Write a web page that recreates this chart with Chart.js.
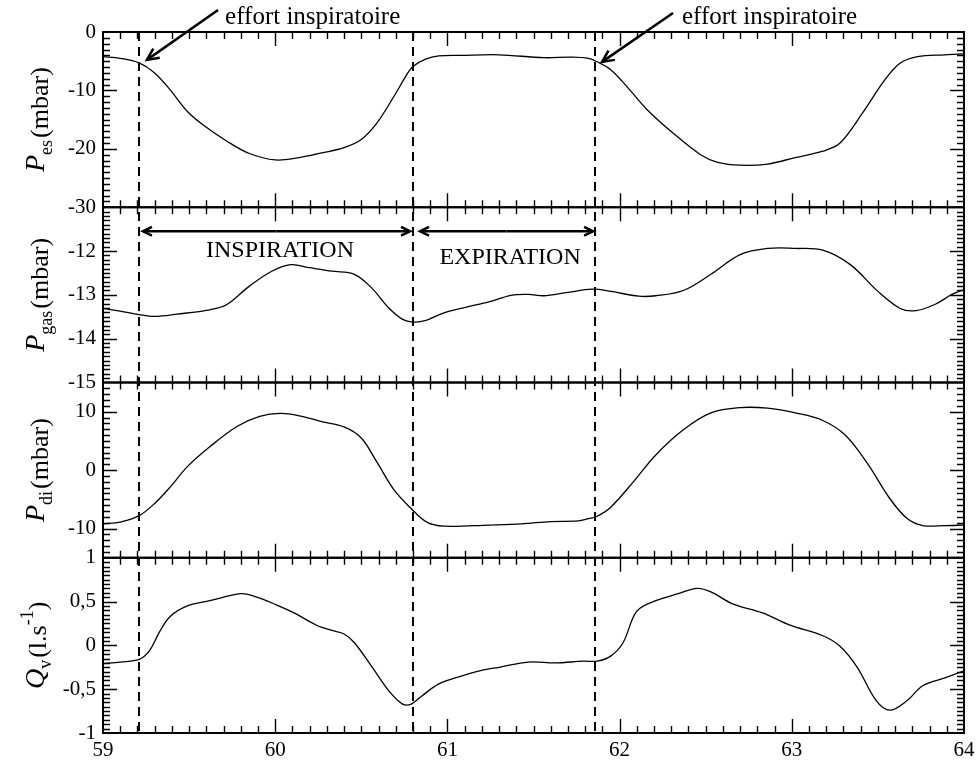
<!DOCTYPE html>
<html>
<head>
<meta charset="utf-8">
<script src="https://cdn.jsdelivr.net/npm/chart.js@4/dist/chart.umd.min.js"></script>
<style>
  html, body { margin: 0; padding: 0; background: #fff; }
  #wrap { width: 976px; height: 762px; }
</style>
</head>
<body>
<div id="wrap"><canvas id="chart" width="976" height="762"></canvas></div>
<script>
// time axis (s)
const xTickValues = [59, 60, 61, 62, 63, 64];

// P_es (mbar)
const tEs = [59.00, 59.10, 59.21, 59.30, 59.39, 59.49, 59.59, 59.72, 59.85, 60.00, 60.14, 60.27, 60.40, 60.50,
  60.59, 60.69, 60.77, 60.80, 60.87, 60.95, 61.08, 61.30, 61.56, 61.72, 61.82, 61.87, 61.95, 62.05, 62.16,
  62.31, 62.47, 62.57, 62.70, 62.86, 63.02, 63.18, 63.28, 63.41, 63.54, 63.63, 63.73, 63.89, 64.00];
const pEs = [-4.2, -4.5, -5.3, -7.0, -9.9, -13.6, -16.1, -18.7, -20.8, -21.9, -21.5, -20.7, -19.8, -18.4,
  -15.6, -11.0, -7.0, -5.9, -4.7, -4.1, -4.0, -3.9, -4.4, -4.3, -4.5, -5.1, -6.5, -9.6, -13.3,
  -17.3, -21.0, -22.3, -22.8, -22.6, -21.5, -20.4, -19.0, -13.9, -8.2, -5.3, -4.2, -3.9, -3.75];

// P_gas (mbar)
const tGas = [59.00, 59.10, 59.21, 59.30, 59.43, 59.62, 59.72, 59.85, 59.98, 60.09, 60.20, 60.33, 60.46, 60.56,
  60.66, 60.74, 60.80, 60.87, 60.98, 61.11, 61.24, 61.37, 61.47, 61.56, 61.69, 61.84, 61.95, 62.11, 62.21,
  62.37, 62.53, 62.70, 62.86, 63.02, 63.18, 63.34, 63.50, 63.63, 63.72, 63.83, 63.93, 64.00];
const pGas = [-13.31, -13.37, -13.45, -13.49, -13.44, -13.34, -13.22, -12.80, -12.46, -12.31, -12.38, -12.46, -12.53, -12.84,
  -13.30, -13.56, -13.62, -13.59, -13.41, -13.28, -13.16, -13.01, -12.99, -13.02, -12.95, -12.87, -12.92, -13.03, -13.02,
  -12.90, -12.53, -12.08, -11.94, -11.94, -11.98, -12.31, -12.92, -13.31, -13.36, -13.22, -12.99, -12.88];

// P_di (mbar)
const tDi = [59.00, 59.10, 59.21, 59.30, 59.39, 59.49, 59.62, 59.78, 59.91, 60.03, 60.14, 60.27, 60.40, 60.50,
  60.59, 60.69, 60.79, 60.88, 60.98, 61.24, 61.43, 61.60, 61.76, 61.82, 61.87, 61.95, 62.08, 62.21, 62.37,
  62.53, 62.70, 62.86, 63.02, 63.18, 63.31, 63.44, 63.57, 63.67, 63.76, 63.89, 64.00];
const pDi = [-9.2, -8.9, -7.8, -5.7, -2.9, 0.6, 4.0, 7.5, 9.2, 9.7, 9.3, 8.3, 7.4, 5.5,
  1.4, -3.4, -6.6, -8.9, -9.6, -9.4, -9.2, -8.8, -8.7, -8.3, -7.9, -6.3, -2.0, 2.6, 6.9,
  9.8, 10.7, 10.6, 9.8, 8.5, 6.0, 1.1, -4.9, -8.3, -9.5, -9.5, -9.4];

// Q_v (l/s)
const tQ = [59.00, 59.10, 59.21, 59.27, 59.33, 59.39, 59.49, 59.62, 59.80, 59.88, 60.01, 60.11, 60.24, 60.33,
  60.40, 60.46, 60.56, 60.66, 60.74, 60.79, 60.85, 60.95, 61.08, 61.21, 61.30, 61.47, 61.63, 61.79, 61.87,
  61.95, 62.02, 62.10, 62.21, 62.34, 62.45, 62.53, 62.66, 62.83, 62.99, 63.18, 63.28, 63.38, 63.49, 63.57,
  63.67, 63.76, 63.89, 64.00];
const qV = [-0.21, -0.19, -0.16, -0.06, 0.16, 0.33, 0.45, 0.51, 0.59, 0.56, 0.46, 0.37, 0.23, 0.17,
  0.13, 0.03, -0.24, -0.52, -0.67, -0.67, -0.58, -0.44, -0.35, -0.28, -0.25, -0.19, -0.20, -0.18, -0.18,
  -0.12, 0.03, 0.39, 0.51, 0.59, 0.65, 0.61, 0.47, 0.37, 0.23, 0.11, -0.01, -0.25, -0.63, -0.74,
  -0.63, -0.46, -0.37, -0.29];

// phase markers (dashed lines)
const markerTimes = [59.21, 60.80, 61.86];

// y tick labels per panel
const esTicks = [0, -10, -20, -30];
const gasTicks = [-12, -13, -14, -15];
const diTicks = [10, 0, -10];
const qTicks = [1, 0.5, 0, -0.5, -1];

const SERIF = "'Liberation Serif', 'DejaVu Serif', serif";
const tickFont = { family: SERIF, size: 21 };

// panel ranges and tick steps, top to bottom
const panels = [
  { id: "yEs", min: -30, max: 0, major: 10, minor: 1, ticks: esTicks },
  { id: "yGas", min: -15, max: -11, major: 1, minor: 0.1, ticks: gasTicks },
  { id: "yDi", min: -15, max: 15, major: 10, minor: 1, ticks: diTicks },
  { id: "yQ", min: -1, max: 1, major: 0.5, minor: 0.05, ticks: qTicks },
];

function toPoints(xs, ys) {
  return xs.map((x, i) => ({ x, y: ys[i] }));
}

function formatTick(v) {
  return String(v).replace(".", ",");
}

function buildYScale(panel) {
  return {
    type: "linear",
    position: "left",
    stack: "panels",
    stackWeight: 1,
    min: panel.min,
    max: panel.max,
    grid: { display: false, drawTicks: false },
    border: { display: false },
    afterBuildTicks: (scale) => {
      scale.ticks = panel.ticks.map((v) => ({ value: v }));
    },
    afterFit: (scale) => {
      scale.width = 103;
      scale.paddingTop = 0;
      scale.paddingBottom = 0;
    },
    ticks: {
      font: tickFont,
      color: "#000",
      padding: 7,
      autoSkip: false,
      callback: (v) => formatTick(v),
    },
  };
}

function lineDataset(xs, ys, axisId) {
  return {
    data: toPoints(xs, ys),
    yAxisID: axisId,
    borderColor: "#000",
    borderWidth: 1.3,
    pointRadius: 0,
    tension: 0.35,
    fill: false,
  };
}

function drawArrow(ctx, x1, y1, x2, y2, head) {
  const ang = Math.atan2(y2 - y1, x2 - x1);
  ctx.beginPath();
  ctx.moveTo(x1, y1);
  ctx.lineTo(x2, y2);
  ctx.stroke();
  ctx.beginPath();
  ctx.moveTo(x2 - head * Math.cos(ang - 0.45), y2 - head * Math.sin(ang - 0.45));
  ctx.lineTo(x2, y2);
  ctx.lineTo(x2 - head * Math.cos(ang + 0.45), y2 - head * Math.sin(ang + 0.45));
  ctx.stroke();
}

function drawAxisTitle(ctx, cx, cy, pieces) {
  ctx.save();
  ctx.translate(cx, cy);
  ctx.rotate(-Math.PI / 2);
  ctx.textBaseline = "alphabetic";
  ctx.textAlign = "left";
  let total = 0;
  pieces.forEach((p) => {
    ctx.font = p.font;
    p.w = ctx.measureText(p.text).width;
    total += p.w + (p.gap || 0);
  });
  let x = -total / 2;
  pieces.forEach((p) => {
    ctx.font = p.font;
    ctx.fillText(p.text, x, p.dy || 0);
    x += p.w + (p.gap || 0);
  });
  ctx.restore();
}

const decorPlugin = {
  id: "decor",
  afterDatasetsDraw(chart) {
    const { ctx, chartArea, scales } = chart;
    const xs = scales.x;
    const left = chartArea.left;
    const right = chartArea.right;
    ctx.save();
    ctx.strokeStyle = "#000";
    ctx.fillStyle = "#000";

    // inward ticks on every panel
    panels.forEach((panel) => {
      const ys = scales[panel.id];
      const n = Math.round((panel.max - panel.min) / panel.minor);
      ctx.lineWidth = 1.4;
      ctx.beginPath();
      for (let i = 1; i < n; i += 1) {
        const v = panel.min + i * panel.minor;
        const r = v / panel.major;
        const len = Math.abs(r - Math.round(r)) < 1e-6 ? 14 : 7;
        const py = Math.round(ys.getPixelForValue(v)) + 0.5;
        ctx.moveTo(left, py);
        ctx.lineTo(left + len, py);
        ctx.moveTo(right, py);
        ctx.lineTo(right - len, py);
      }
      for (let i = 1; i < 50; i += 1) {
        const v = 59 + i * 0.1;
        const len = i % 10 === 0 ? 14 : 7;
        const px = Math.round(xs.getPixelForValue(v)) + 0.5;
        ctx.moveTo(px, ys.top);
        ctx.lineTo(px, ys.top + len);
        ctx.moveTo(px, ys.bottom);
        ctx.lineTo(px, ys.bottom - len);
      }
      ctx.stroke();
      ctx.lineWidth = 2;
      ctx.strokeRect(left, ys.top, right - left, ys.bottom - ys.top);
    });

    // dashed phase markers
    ctx.lineWidth = 2;
    ctx.setLineDash([9, 6]);
    markerTimes.forEach((t) => {
      const px = Math.round(xs.getPixelForValue(t));
      ctx.beginPath();
      ctx.moveTo(px, chartArea.top);
      ctx.lineTo(px, chartArea.bottom);
      ctx.stroke();
    });
    ctx.setLineDash([]);

    // "effort inspiratoire" arrows
    const yEs = scales.yEs;
    const yGas = scales.yGas;
    ctx.lineWidth = 2.5;
    drawArrow(ctx, xs.getPixelForValue(59.668), yEs.getPixelForValue(3.75),
      xs.getPixelForValue(59.255), yEs.getPixelForValue(-4.77), 13);
    drawArrow(ctx, xs.getPixelForValue(62.31), yEs.getPixelForValue(3.24),
      xs.getPixelForValue(61.898), yEs.getPixelForValue(-5.11), 13);
    ctx.font = "25px " + SERIF;
    ctx.textAlign = "left";
    ctx.textBaseline = "alphabetic";
    ctx.fillText("effort inspiratoire", xs.getPixelForValue(59.709), yEs.getPixelForValue(1.36));
    ctx.fillText("effort inspiratoire", xs.getPixelForValue(62.362), yEs.getPixelForValue(1.36));

    // phase arrows
    const ay = yGas.getPixelForValue(-11.55);
    const inspA = xs.getPixelForValue(59.232), inspB = xs.getPixelForValue(60.783);
    const expA = xs.getPixelForValue(60.841), expB = xs.getPixelForValue(61.846);
    ctx.lineWidth = 2.5;
    drawArrow(ctx, (inspA + inspB) / 2, ay, inspA, ay, 10);
    drawArrow(ctx, (inspA + inspB) / 2, ay, inspB, ay, 10);
    drawArrow(ctx, (expA + expB) / 2, ay, expA, ay, 10);
    drawArrow(ctx, (expA + expB) / 2, ay, expB, ay, 10);
    ctx.font = "24px " + SERIF;
    ctx.textAlign = "center";
    ctx.fillText("INSPIRATION", xs.getPixelForValue(60.028), yGas.getPixelForValue(-12.14));
    ctx.fillText("EXPIRATION", xs.getPixelForValue(61.364), yGas.getPixelForValue(-12.30));

    // axis titles
    const big = "italic 28px " + SERIF;
    const sub = "18px " + SERIF;
    const unit = "26px " + SERIF;
    const mid = (s) => (s.top + s.bottom) / 2;
    drawAxisTitle(ctx, 48, mid(yEs), [
      { text: "P", font: big, dy: -4 },
      { text: "es", font: sub, dy: 4, gap: 2 },
      { text: "(mbar)", font: unit },
    ]);
    drawAxisTitle(ctx, 48, mid(yGas), [
      { text: "P", font: big, dy: -4 },
      { text: "gas", font: sub, dy: 4, gap: 2 },
      { text: "(mbar)", font: unit },
    ]);
    drawAxisTitle(ctx, 48, mid(scales.yDi), [
      { text: "P", font: big, dy: -4 },
      { text: "di", font: sub, dy: 4, gap: 2 },
      { text: "(mbar)", font: unit },
    ]);
    drawAxisTitle(ctx, 46, mid(scales.yQ), [
      { text: "Q", font: big, dy: -2 },
      { text: "v", font: sub, dy: 5, gap: 2 },
      { text: "(l.s", font: unit },
      { text: "-1", font: sub, dy: -13 },
      { text: ")", font: unit },
    ]);
    ctx.restore();
  },
};

// stacked axes are laid out in reverse of their definition order
new Chart(document.getElementById("chart"), {
  type: "line",
  data: {
    datasets: [
      lineDataset(tEs, pEs, "yEs"),
      lineDataset(tGas, pGas, "yGas"),
      lineDataset(tDi, pDi, "yDi"),
      lineDataset(tQ, qV, "yQ"),
    ],
  },
  options: {
    responsive: false,
    animation: false,
    layout: { padding: { left: 0, right: 12, top: 32, bottom: 0 } },
    plugins: { legend: { display: false }, tooltip: { enabled: false } },
    scales: {
      x: {
        type: "linear",
        position: "bottom",
        min: 59,
        max: 64,
        grid: { display: false, drawTicks: false },
        border: { display: false },
        afterBuildTicks: (scale) => {
          scale.ticks = xTickValues.map((v) => ({ value: v }));
        },
        afterFit: (scale) => {
          scale.height = 29;
          scale.paddingLeft = 0;
          scale.paddingRight = 0;
        },
        ticks: { font: tickFont, color: "#000", padding: 5, autoSkip: false, maxRotation: 0 },
      },
      yQ: buildYScale(panels[3]),
      yDi: buildYScale(panels[2]),
      yGas: buildYScale(panels[1]),
      yEs: buildYScale(panels[0]),
    },
  },
  plugins: [decorPlugin],
});
</script>
</body>
</html>
